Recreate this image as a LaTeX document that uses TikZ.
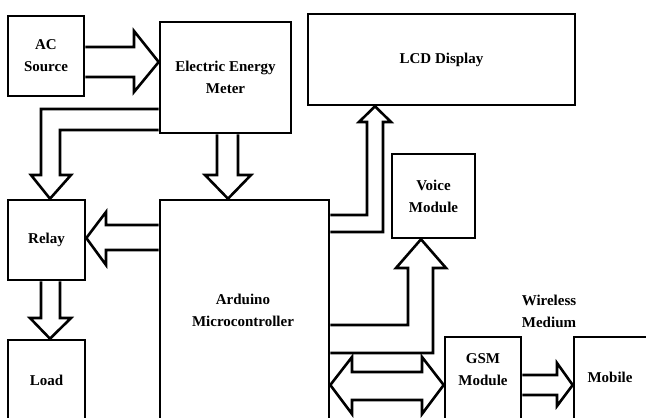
\documentclass[tikz,border=0pt]{standalone}
\usepackage{fontspec}
\setmainfont{Liberation Serif}
\begin{document}
\begin{tikzpicture}[x=1pt,y=-1pt,
  box/.style={draw, line width=2.6pt, inner sep=0pt, font=\fontsize{15}{22}\selectfont\bfseries, align=center},
  lbl/.style={font=\fontsize{15}{22}\selectfont\bfseries, align=center, inner sep=0pt},
  barrow/.style={draw, line width=2.6pt, line join=miter, fill=white}]
\useasboundingbox (0,0) rectangle (646,418);
\clip (0,0) rectangle (646,418);
% boxes
\node[box, minimum width=76pt, minimum height=80pt] (ac) at (46,56) {AC\\Source};
\node[box, minimum width=131pt, minimum height=111pt] (em) at (225.5,77.5) {Electric Energy\\Meter};
\node[box, minimum width=267pt, minimum height=91pt] (lcd) at (441.5,59.5) {LCD Display};
\node[box, minimum width=83pt, minimum height=84pt] (voice) at (433.5,196) {Voice\\Module};
\node[box, minimum width=77pt, minimum height=80pt] (relay) at (46.5,240) {Relay};
\node[box, minimum width=77pt, minimum height=80pt] (load) at (46.5,380) {Load};
\node[box, minimum width=169pt, minimum height=240pt] (ard) at (244.5,320) {};
\node[box, minimum width=76pt, minimum height=103pt] (gsm) at (483,388.5) {};
\node[box, minimum width=106pt, minimum height=103pt] (mob) at (627,388.5) {};
% texts of cut boxes
\node[lbl] (ardt) at (243,310) {Arduino\\Microcontroller};
\node[lbl] (gsmt) at (483,370) {GSM\\Module};
\node[lbl] (mobt) at (610,377) {Mobile};
\node[lbl] (wm) at (549,311) {Wireless\\Medium};
% block arrows
\draw[barrow] (ac.east |- 0,47) -- (134,47) -- (134,31) -- (em.west |- 0,62) -- (134,92) -- (134,77) -- (ac.east |- 0,77);
\draw[barrow] (em.west |- 0,109) -- (41,109) -- (41,175) -- (31,175) -- (50,0 |- relay.north) -- (71,175) -- (60,175) -- (60,130) -- (em.west |- 0,130);
\draw[barrow] (217,0 |- em.south) -- (217,175) -- (205,175) -- (228,0 |- ard.north) -- (251,175) -- (238,175) -- (238,0 |- em.south);
\draw[barrow] (ard.west |- 0,225) -- (106,225) -- (106,212) -- (relay.east |- 0,238) -- (106,265) -- (106,250) -- (ard.west |- 0,250);
\draw[barrow] (41,0 |- relay.south) -- (41,318) -- (30,318) -- (50,0 |- load.north) -- (71,318) -- (60,318) -- (60,0 |- relay.south);
\draw[barrow] (ard.east |- 0,215) -- (367,215) -- (367,122) -- (359,122) -- (375,0 |- lcd.south) -- (391,122) -- (383,122) -- (383,232) -- (ard.east |- 0,232);
\draw[barrow] (ard.east |- 0,325) -- (408,325) -- (408,268) -- (396,268) -- (421,0 |- voice.south) -- (446,268) -- (433,268) -- (433,353) -- (ard.east |- 0,353);
\draw[barrow] (ard.east |- 0,385) -- (352,357) -- (352,372) -- (422,372) -- (422,357) -- (gsm.west |- 0,385) -- (422,414) -- (422,400) -- (352,400) -- (352,414) -- cycle;
\draw[barrow] (gsm.east |- 0,375) -- (557,375) -- (557,363) -- (mob.west |- 0,385) -- (557,406) -- (557,395) -- (gsm.east |- 0,395);
\end{tikzpicture}
\end{document}
